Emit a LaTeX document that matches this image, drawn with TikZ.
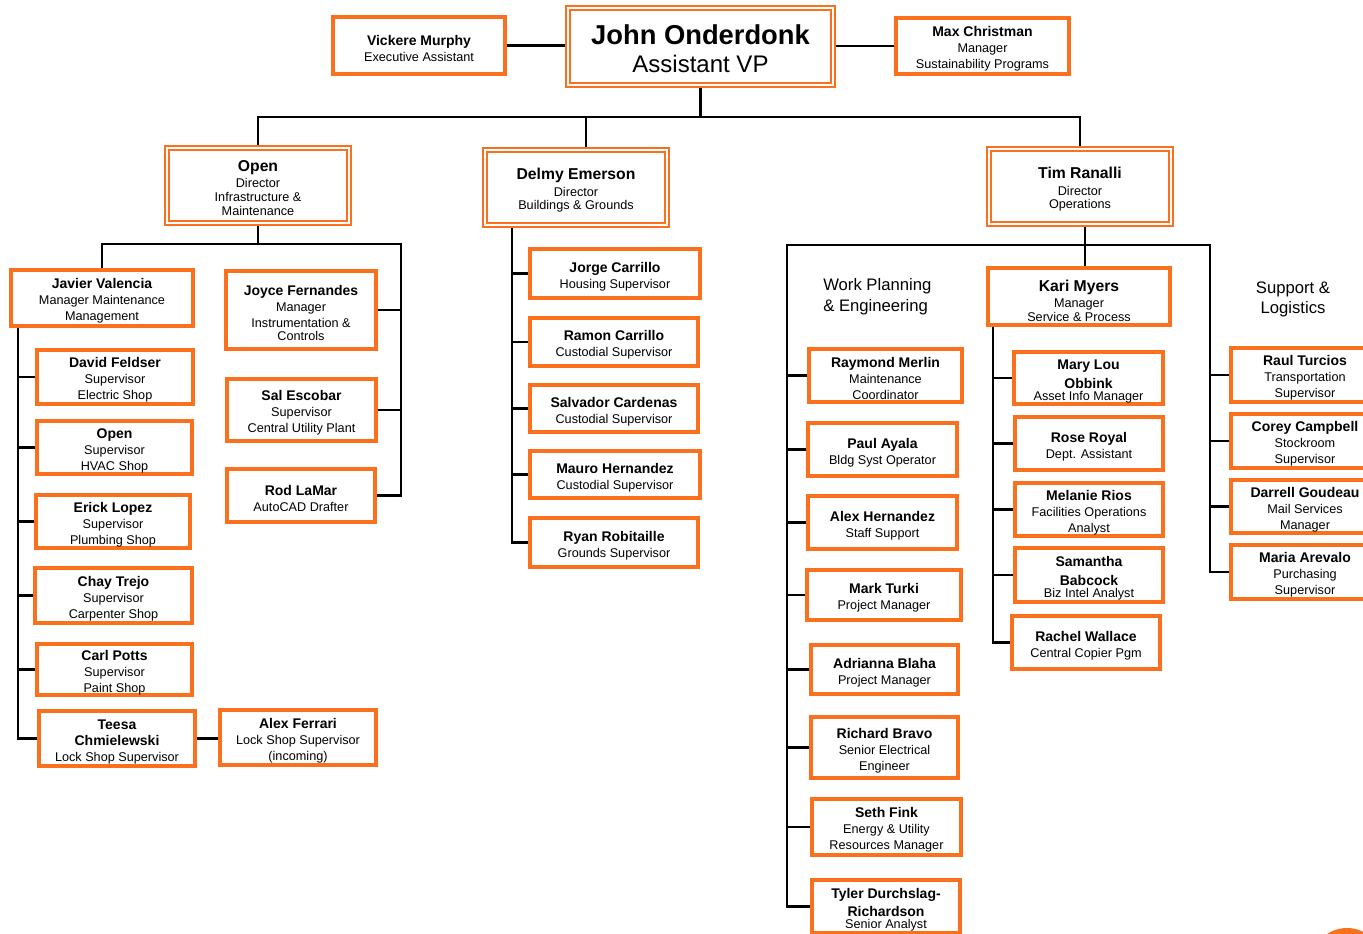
\documentclass[tikz,border=0pt]{standalone}
\usepackage{fontspec}
\setmainfont{Liberation Sans}
\definecolor{orng}{RGB}{250,112,28}
\newcommand{\pnm}[1]{{\fontsize{10.5}{12}\selectfont\bfseries #1}}
\newcommand{\fnm}[1]{\rule{0pt}{12.3pt}{\fontsize{10.5}{12}\selectfont\bfseries #1}}
\newcommand{\dnm}[1]{\rule{0pt}{12.3pt}{\fontsize{11.8}{14}\selectfont\bfseries #1}}
\tikzset{
  conn/.style={line width=2pt, draw=black},
  pos/.style n args={4}{at={({(#1+#3)/2},{(#2+#4)/2})}, minimum width={(#3-#1)*0.75pt}, minimum height={(#4-#2)*0.75pt}},
  box/.style={draw=orng, line width=2.3pt, fill=white, inner sep=0pt, align=center, font=\fontsize{9.5}{12}\selectfont},
  dout/.style={draw=orng, line width=1.1pt, fill=white, inner sep=0pt},
  dbox/.style={draw=orng, line width=2pt, inner sep=0pt, align=center, font=\fontsize{9.5}{10.5}\selectfont},
  lbl/.style={inner sep=0pt, font=\fontsize{12.5}{15.5}\selectfont},
}
\begin{document}
\begin{tikzpicture}[x=0.75pt, y=-0.75pt]
\useasboundingbox (0,0) rectangle (1363,934);
\clip (0,0) rectangle (1363,934);

% top row
\node[box, pos={333}{17}{505}{74}] (vick) {\fnm{Vickere Murphy}\\Executive Assistant};
\node[dout, pos={566}{6}{835}{87}] (john) {};
\node[dbox, pos={570}{10}{831}{83}, font=\fontsize{18}{22}\selectfont] (johni) {\rule{0pt}{18pt}{\fontsize{20.5}{24}\selectfont\bfseries John Onderdonk}\\[-1pt]Assistant VP};
\node[box, pos={896}{18}{1069}{74}] (max) {\fnm{Max Christman}\\Manager\\Sustainability Programs};

% directors
\node[dout, pos={165}{146}{351}{225}] (dopen) {};
\node[dbox, pos={169}{150}{347}{221}] (dopeni) {\dnm{Open}\\[1.5pt]Director\\Infrastructure \&\\Maintenance};
\node[dout, pos={483}{148}{669}{227}] (delmy) {};
\node[dbox, pos={487}{152}{665}{223}] (delmyi) {\dnm{Delmy Emerson}\\[2pt]Director\\[-1pt]Buildings \& Grounds};
\node[dout, pos={987}{147}{1173}{226}] (tim) {};
\node[dbox, pos={991}{151}{1169}{222}] (timi) {\dnm{Tim Ranalli}\\[2pt]Director\\[-1pt]Operations};

% Open subtree
\node[box, pos={11}{270}{193}{326}] (javier) {\fnm{Javier Valencia}\\Manager Maintenance\\Management};
\node[box, pos={37}{350}{193}{404}] (david) {\fnm{David Feldser}\\Supervisor\\Electric Shop};
\node[box, pos={37}{421}{192}{474}] (hvac) {\fnm{Open}\\Supervisor\\HVAC Shop};
\node[box, pos={36}{495}{190}{548}] (erick) {\fnm{Erick Lopez}\\Supervisor\\Plumbing Shop};
\node[box, pos={35}{568}{192}{623}] (chay) {\fnm{Chay Trejo}\\Supervisor\\Carpenter Shop};
\node[box, pos={37}{645}{192}{694}] (carl) {\fnm{Carl Potts}\\Supervisor\\Paint Shop};
\node[box, pos={39}{711}{195}{766}] (teesa) {\fnm{Teesa}\\\pnm{Chmielewski}\\Lock Shop Supervisor};
\node[box, pos={220}{710}{376}{765}] (alexf) {\fnm{Alex Ferrari}\\Lock Shop Supervisor\\(incoming)};
\node[box, pos={226}{271}{376}{349}] (joyce) {\fnm{Joyce Fernandes}\\Manager\\Instrumentation \&\\[-2pt]Controls};
\node[box, pos={227}{379}{376}{441}] (sal) {\fnm{Sal Escobar}\\Supervisor\\Central Utility Plant};
\node[box, pos={227}{469}{375}{522}] (rod) {\fnm{Rod LaMar}\\AutoCAD Drafter};

% Delmy subtree
\node[box, pos={530}{249}{700}{298}] (jorge) {\fnm{Jorge Carrillo}\\Housing Supervisor};
\node[box, pos={530}{318}{698}{366}] (ramon) {\fnm{Ramon Carrillo}\\Custodial Supervisor};
\node[box, pos={530}{385}{698}{432}] (salv) {\fnm{Salvador Cardenas}\\Custodial Supervisor};
\node[box, pos={530}{451}{700}{498}] (mauro) {\fnm{Mauro Hernandez}\\Custodial Supervisor};
\node[box, pos={530}{518}{698}{567}] (ryan) {\fnm{Ryan Robitaille}\\Grounds Supervisor};

% Tim subtree
\node[lbl, anchor=west, align=left] (wpe) at (823,297) {Work Planning\\\& Engineering};
\node[lbl, align=center] (sl) at (1293,299.5) {Support \&\\Logistics};
\node[box, pos={988}{268}{1170}{325}, font=\fontsize{9.5}{10.5}\selectfont] (kari) {\rule{0pt}{15pt}{\fontsize{11.8}{14}\selectfont\bfseries Kari Myers}\\[2pt]Manager\\Service \& Process};

\node[box, pos={809}{349}{962}{402}] (raym) {\fnm{Raymond Merlin}\\Maintenance\\Coordinator};
\node[box, pos={808}{423}{957}{476}] (paul) {\fnm{Paul Ayala}\\Bldg Syst Operator};
\node[box, pos={808}{496}{957}{549}] (alexh) {\fnm{Alex Hernandez}\\Staff Support};
\node[box, pos={807}{570}{961}{620}] (mark) {\fnm{Mark Turki}\\Project Manager};
\node[box, pos={811}{645}{958}{694}] (adri) {\fnm{Adrianna Blaha}\\Project Manager};
\node[box, pos={811}{717}{958}{778}] (rich) {\fnm{Richard Bravo}\\Senior Electrical\\Engineer};
\node[box, pos={812}{799}{961}{855}] (seth) {\fnm{Seth Fink}\\Energy \& Utility\\Resources Manager};
\node[box, pos={812}{880}{960}{933}] (tyler) {\fnm{Tyler Durchslag-}\\[2pt]\pnm{Richardson}\\[-3pt]Senior Analyst};

\node[box, pos={1014}{352}{1163}{404}] (mary) {\fnm{Mary Lou}\\[2pt]\pnm{Obbink}\\[-3pt]Asset Info Manager};
\node[box, pos={1015}{417}{1163}{470}] (rose) {\fnm{Rose Royal}\\Dept. Assistant};
\node[box, pos={1015}{483}{1163}{536}] (mel) {\fnm{Melanie Rios}\\Facilities Operations\\Analyst};
\node[box, pos={1015}{548}{1163}{602}] (sam) {\fnm{Samantha}\\[2pt]\pnm{Babcock}\\[-3pt]Biz Intel Analyst};
\node[box, pos={1012}{616}{1160}{669}] (rachel) {\fnm{Rachel Wallace}\\Central Copier Pgm};

\node[box, pos={1231}{348}{1379}{402}] (raul) {\fnm{Raul Turcios}\\Transportation\\Supervisor};
\node[box, pos={1231}{414}{1379}{468}] (corey) {\fnm{Corey Campbell}\\Stockroom\\Supervisor};
\node[box, pos={1231}{480}{1379}{533}] (darrell) {\fnm{Darrell Goudeau}\\Mail Services\\Manager};
\node[box, pos={1231}{545}{1379}{599}] (maria) {\fnm{Maria Arevalo}\\Purchasing\\Supervisor};

\node[circle, fill=orng, inner sep=0pt, minimum size=54pt] (logo) at (1347,964) {};

% ---- connectors ----
\draw[conn] (vick.east) -- (vick.east -| john.west);
\draw[conn] (max.west) -- (max.west -| john.east);
\coordinate (busA) at (701,117);
\draw[conn] (john.south) -- (john.south |- busA);
\draw[conn] (dopen.north) |- (tim.north |- busA) -- (tim.north);
\coordinate (dtop) at (586,0);
\draw[conn] (dtop |- busA) -- (dtop |- delmy.north);

\coordinate (busB) at (0,244);
\coordinate (rtrunk) at (401,0);
\coordinate (ltrunk) at (18,0);
\draw[conn] (dopen.south) -- (dopen.south |- busB);
\draw[conn] (javier.north) |- (rtrunk |- busB) -- (rtrunk |- rod.east) -- (rod.east);
\draw[conn] (joyce.east) -- (joyce.east -| rtrunk);
\draw[conn] (sal.east) -- (sal.east -| rtrunk);
\draw[conn] (ltrunk |- javier.south) -- (ltrunk |- teesa.west) -- (teesa.west);
\foreach \n in {david,hvac,erick,chay,carl}
  \draw[conn] (\n.west) -- (\n.west -| ltrunk);
\draw[conn] (teesa.east) -- (teesa.east -| alexf.west);

\coordinate (dtrunk) at (512,0);
\draw[conn] (dtrunk |- delmy.south) -- (dtrunk |- ryan.west) -- (ryan.west);
\foreach \n in {jorge,ramon,salv,mauro}
  \draw[conn] (\n.west) -- (\n.west -| dtrunk);

\coordinate (ttop) at (1085,0);
\coordinate (busC) at (0,245);
\coordinate (wtrunk) at (787,0);
\coordinate (strunk) at (1210,0);
\coordinate (ktrunk) at (993,0);
\draw[conn] (ttop |- tim.south) -- (ttop |- kari.north);
\draw[conn] (tyler.west) -- (wtrunk |- tyler.west) -- (wtrunk |- busC) -- (strunk |- busC) -- (strunk |- maria.west) -- (maria.west);
\foreach \n in {raym,paul,alexh,mark,adri,rich,seth}
  \draw[conn] (\n.west) -- (\n.west -| wtrunk);
\foreach \n in {raul,corey,darrell}
  \draw[conn] (\n.west) -- (\n.west -| strunk);
\draw[conn] (ktrunk |- kari.south) -- (ktrunk |- rachel.west) -- (rachel.west);
\foreach \n in {mary,rose,mel,sam}
  \draw[conn] (\n.west) -- (\n.west -| ktrunk);
\end{tikzpicture}
\end{document}
